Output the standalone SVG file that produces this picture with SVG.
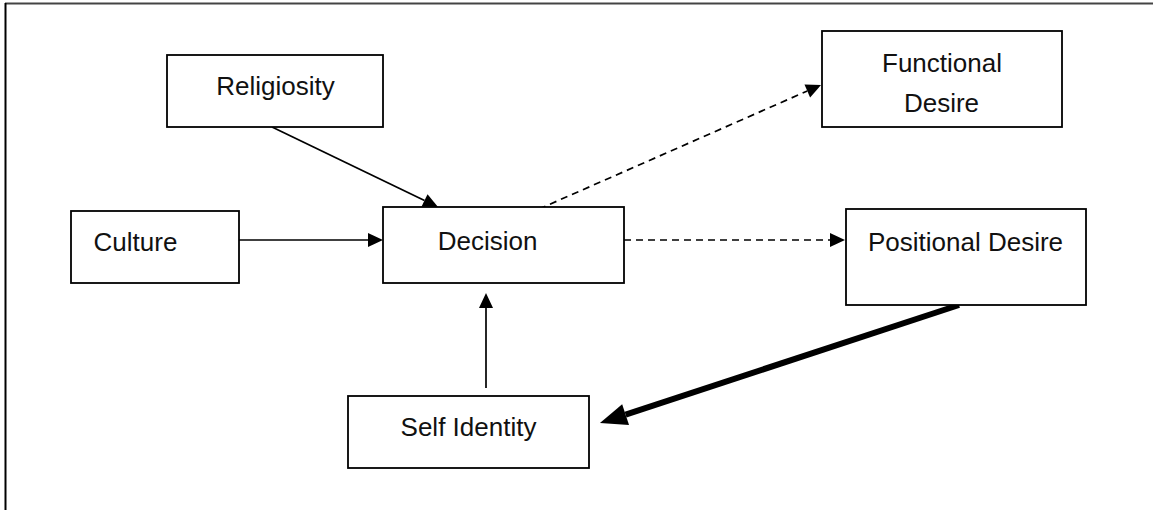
<svg xmlns="http://www.w3.org/2000/svg" width="1153" height="512" viewBox="0 0 1153 512">
<style>
.box{fill:#fff;stroke:#000;stroke-width:1.8}
.lbl{font-family:"Liberation Sans",Arial,sans-serif;font-size:26px;fill:#111;text-anchor:middle}
.ln{stroke:#000;stroke-width:1.7;fill:none}
.dash{stroke-dasharray:7,5}
</style>
<defs>
<marker id="ah" markerUnits="userSpaceOnUse" markerWidth="15" markerHeight="14" refX="0" refY="7" orient="auto" overflow="visible">
<path d="M0,0 L15,7 L0,14 Z" fill="#000"/>
</marker>
<marker id="ahBig" markerUnits="userSpaceOnUse" markerWidth="27" markerHeight="22" refX="0" refY="11" orient="auto" overflow="visible">
<path d="M0,0 L27,11 L0,22 Z" fill="#000"/>
</marker>
</defs>
<rect width="1153" height="512" fill="#fff"/>
<g id="frame">
<line x1="5" y1="3.5" x2="1153" y2="3.5" stroke="#444" stroke-width="2"/>
<line x1="5.5" y1="3" x2="5.5" y2="510" stroke="#000" stroke-width="2"/>
</g>
<g id="connectors">
<line class="ln" x1="239" y1="240" x2="368" y2="240" marker-end="url(#ah)"/>
<line class="ln" x1="272" y1="127" x2="424.5" y2="200.5" marker-end="url(#ah)"/>
<line class="ln" x1="486" y1="388" x2="486" y2="308" marker-end="url(#ah)"/>
<line class="ln dash" x1="539" y1="209" x2="807.3" y2="91" marker-end="url(#ah)"/>
<line class="ln dash" x1="624" y1="240" x2="830" y2="240" marker-end="url(#ah)"/>
<line x1="959" y1="305" x2="625.6" y2="414.6" stroke="#000" stroke-width="6" marker-end="url(#ahBig)"/>
</g>
<g id="religiosity">
<rect class="box" x="167" y="55" width="216" height="72"/>
<text class="lbl" x="275.5" y="95">Religiosity</text>
</g>
<g id="culture">
<rect class="box" x="71" y="211" width="168" height="72"/>
<text class="lbl" x="135.5" y="251">Culture</text>
</g>
<g id="decision">
<rect class="box" x="383" y="207" width="241" height="76"/>
<text class="lbl" x="487.5" y="250">Decision</text>
</g>
<g id="functional-desire">
<rect class="box" x="822" y="31" width="240" height="96"/>
<text class="lbl" x="942" y="72">Functional</text>
<text class="lbl" x="941.5" y="112">Desire</text>
</g>
<g id="positional-desire">
<rect class="box" x="846" y="209" width="240" height="96"/>
<text class="lbl" x="965.5" y="251">Positional Desire</text>
</g>
<g id="self-identity">
<rect class="box" x="348" y="396" width="241" height="72"/>
<text class="lbl" x="468.5" y="436">Self Identity</text>
</g>
</svg>
